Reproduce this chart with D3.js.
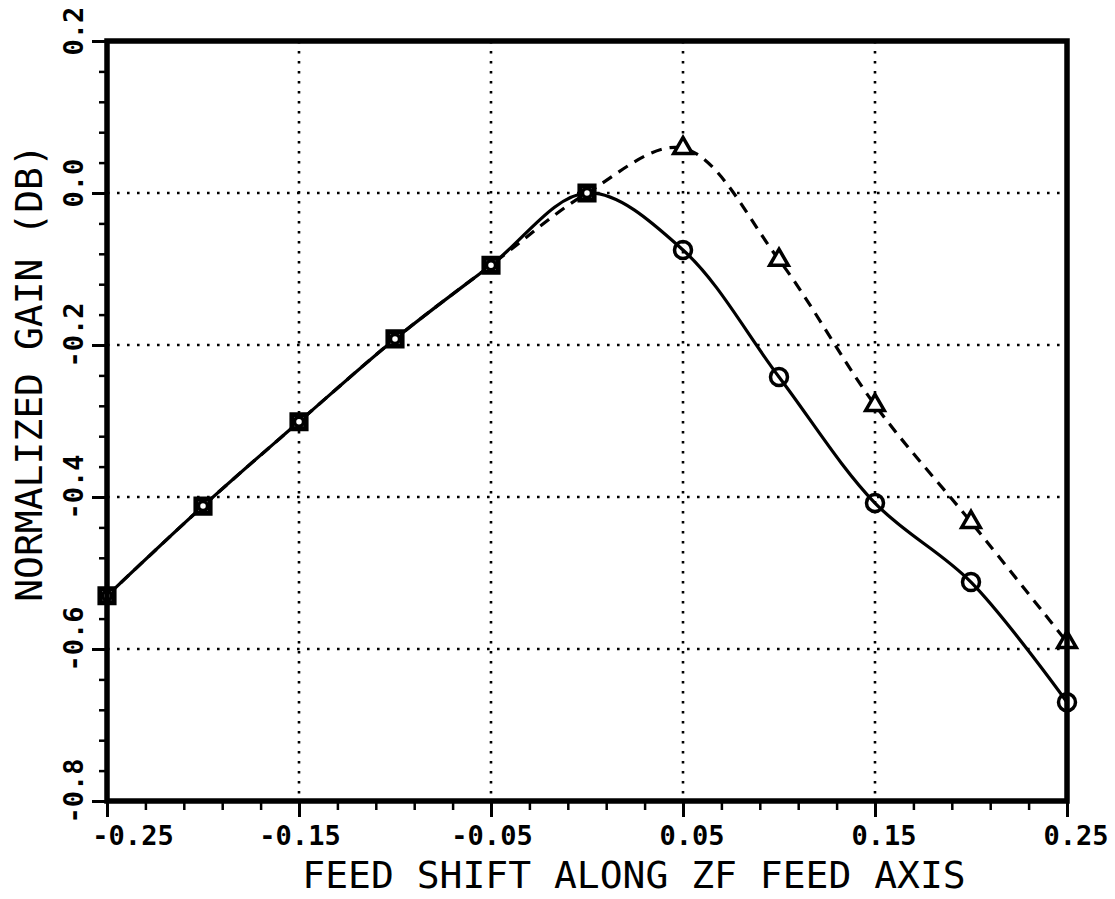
<!DOCTYPE html>
<html>
<head>
<meta charset="utf-8">
<script src="https://cdn.jsdelivr.net/npm/d3@7"></script>
<style>
  html, body { margin: 0; padding: 0; background: #fff; }
  svg { display: block; }
  .tick-label { font-family: "DejaVu Sans Mono", monospace; font-weight: bold; font-size: 27px; fill: #000; }
  .axis-title { font-family: "DejaVu Sans Mono", monospace; font-size: 38px; fill: #000; }
</style>
</head>
<body>
<svg id="chart" width="1115" height="899"></svg>
<script>
// feed shift positions and normalized gain values
const feedShift = [-0.25, -0.2, -0.15, -0.1, -0.05, 0.0, 0.05, 0.1, 0.15, 0.2, 0.25];
const gainSolid = [-0.530, -0.412, -0.301, -0.192, -0.095, 0.0, -0.075, -0.242, -0.408, -0.512, -0.670];
const gainDashed = [-0.530, -0.412, -0.301, -0.192, -0.095, 0.0, 0.059, -0.088, -0.279, -0.433, -0.591];

const xTickValues = [-0.25, -0.15, -0.05, 0.05, 0.15, 0.25];
const xTickLabels = ["-0.25", "-0.15", "-0.05", "0.05", "0.15", "0.25"];
const yTickValues = [0.2, 0.0, -0.2, -0.4, -0.6, -0.8];
const yTickLabels = ["0.2", "0.0", "-0.2", "-0.4", "-0.6", "-0.8"];
const xGridValues = [-0.15, -0.05, 0.05, 0.15];
const yGridValues = [0.0, -0.2, -0.4, -0.6];

const xTitle = "FEED SHIFT ALONG ZF FEED AXIS";
const yTitle = "NORMALIZED GAIN (DB)";

const svg = d3.select("#chart");
const plot = { left: 107, right: 1067, top: 41, bottom: 801 };

const x = d3.scaleLinear().domain([-0.25, 0.25]).range([plot.left, plot.right]);
const y = d3.scaleLinear().domain([-0.8, 0.2]).range([plot.bottom, plot.top]);

// --- grid (dotted) ---
const grid = svg.append("g")
    .attr("stroke", "#000")
    .attr("stroke-width", 2.6)
    .attr("stroke-dasharray", "2.6,7.4");

grid.selectAll("line.vx")
    .data(xGridValues)
    .join("line")
    .attr("class", "vx")
    .attr("x1", d => x(d)).attr("x2", d => x(d))
    .attr("y1", plot.top).attr("y2", plot.bottom);

grid.selectAll("line.hy")
    .data(yGridValues)
    .join("line")
    .attr("class", "hy")
    .attr("x1", plot.left).attr("x2", plot.right)
    .attr("y1", d => y(d)).attr("y2", d => y(d));

// --- ticks: minor every 0.02 on x, 0.04 on y ---
const xMinor = d3.range(0, 26).map(i => -0.25 + i * 0.02);
const yMinor = d3.range(0, 26).map(i => -0.8 + i * 0.04);

svg.append("g")
    .attr("transform", `translate(0,${plot.bottom})`)
    .call(d3.axisBottom(x).tickValues(xMinor).tickSize(9).tickFormat(""))
    .call(g => g.select(".domain").remove())
    .selectAll("line").attr("stroke-width", 2.5);

svg.append("g")
    .attr("transform", `translate(0,${plot.bottom})`)
    .call(d3.axisBottom(x).tickValues(xTickValues).tickSize(16).tickFormat(""))
    .call(g => g.select(".domain").remove())
    .selectAll("line").attr("stroke-width", 3);

svg.append("g")
    .attr("transform", `translate(${plot.left},0)`)
    .call(d3.axisLeft(y).tickValues(yMinor).tickSize(8).tickFormat(""))
    .call(g => g.select(".domain").remove())
    .selectAll("line").attr("stroke-width", 2.5);

svg.append("g")
    .attr("transform", `translate(${plot.left},0)`)
    .call(d3.axisLeft(y).tickValues(yTickValues).tickSize(15).tickFormat(""))
    .call(g => g.select(".domain").remove())
    .selectAll("line").attr("stroke-width", 3);

// x tick labels (the plotter leaves room for a sign, so unsigned labels sit a bit right)
svg.append("g").selectAll("text")
    .data(xTickValues)
    .join("text")
    .attr("class", "tick-label")
    .attr("x", (d, i) => x(d) + (i === 0 ? 26 : (d > 0 ? 9 : 1)))
    .attr("y", 845)
    .attr("text-anchor", "middle")
    .text((d, i) => xTickLabels[i]);

// y tick labels, rotated
svg.append("g").selectAll("text")
    .data(yTickValues)
    .join("text")
    .attr("class", "tick-label")
    .attr("transform", d => `translate(83,${y(d) - 10}) rotate(-90)`)
    .attr("text-anchor", "middle")
    .text((d, i) => yTickLabels[i]);

// --- curves ---
const line = d3.line()
    .x(d => x(d[0]))
    .y(d => y(d[1]))
    .curve(d3.curveCatmullRom.alpha(0.5));

const solidPts = feedShift.map((f, i) => [f, gainSolid[i]]);
const dashedPts = feedShift.map((f, i) => [f, gainDashed[i]]);

svg.append("path")
    .datum(dashedPts)
    .attr("fill", "none")
    .attr("stroke", "#000")
    .attr("stroke-width", 3.2)
    .attr("stroke-dasharray", "11,8")
    .attr("d", line);

svg.append("path")
    .datum(solidPts)
    .attr("fill", "none")
    .attr("stroke", "#000")
    .attr("stroke-width", 3.2)
    .attr("d", line);

// --- markers ---
// dashed series: squares up to 0, triangles beyond
const dashedMarks = svg.append("g")
    .attr("fill", "#fff").attr("stroke", "#000");

dashedMarks.selectAll("path")
    .data(dashedPts)
    .join("path")
    .attr("transform", d => `translate(${x(d[0])},${y(d[1])})`)
    .attr("stroke-width", d => d[0] <= 0.0001 ? 5 : 3.5)
    .attr("d", d => d[0] <= 0.0001
        ? d3.symbol(d3.symbolSquare, 200)()
        : d3.symbol(d3.symbolTriangle, 150)());

// solid series: circles
svg.append("g")
    .attr("fill", "none").attr("stroke", "#000").attr("stroke-width", 3.5)
    .selectAll("circle")
    .data(solidPts)
    .join("circle")
    .attr("cx", d => x(d[0]))
    .attr("cy", d => y(d[1]))
    .attr("r", d => d[0] <= 0.0001 ? 4.5 : 8.5);

// --- frame ---
svg.append("rect")
    .attr("x", plot.left).attr("y", plot.top)
    .attr("width", plot.right - plot.left)
    .attr("height", plot.bottom - plot.top)
    .attr("fill", "none")
    .attr("stroke", "#000")
    .attr("stroke-width", 5.5);

// --- titles ---
svg.append("text")
    .attr("class", "axis-title")
    .attr("x", 634)
    .attr("y", 888)
    .attr("text-anchor", "middle")
    .text(xTitle);

svg.append("text")
    .attr("class", "axis-title")
    .attr("transform", "translate(42,373) rotate(-90)")
    .attr("text-anchor", "middle")
    .text(yTitle);
</script>
</body>
</html>
